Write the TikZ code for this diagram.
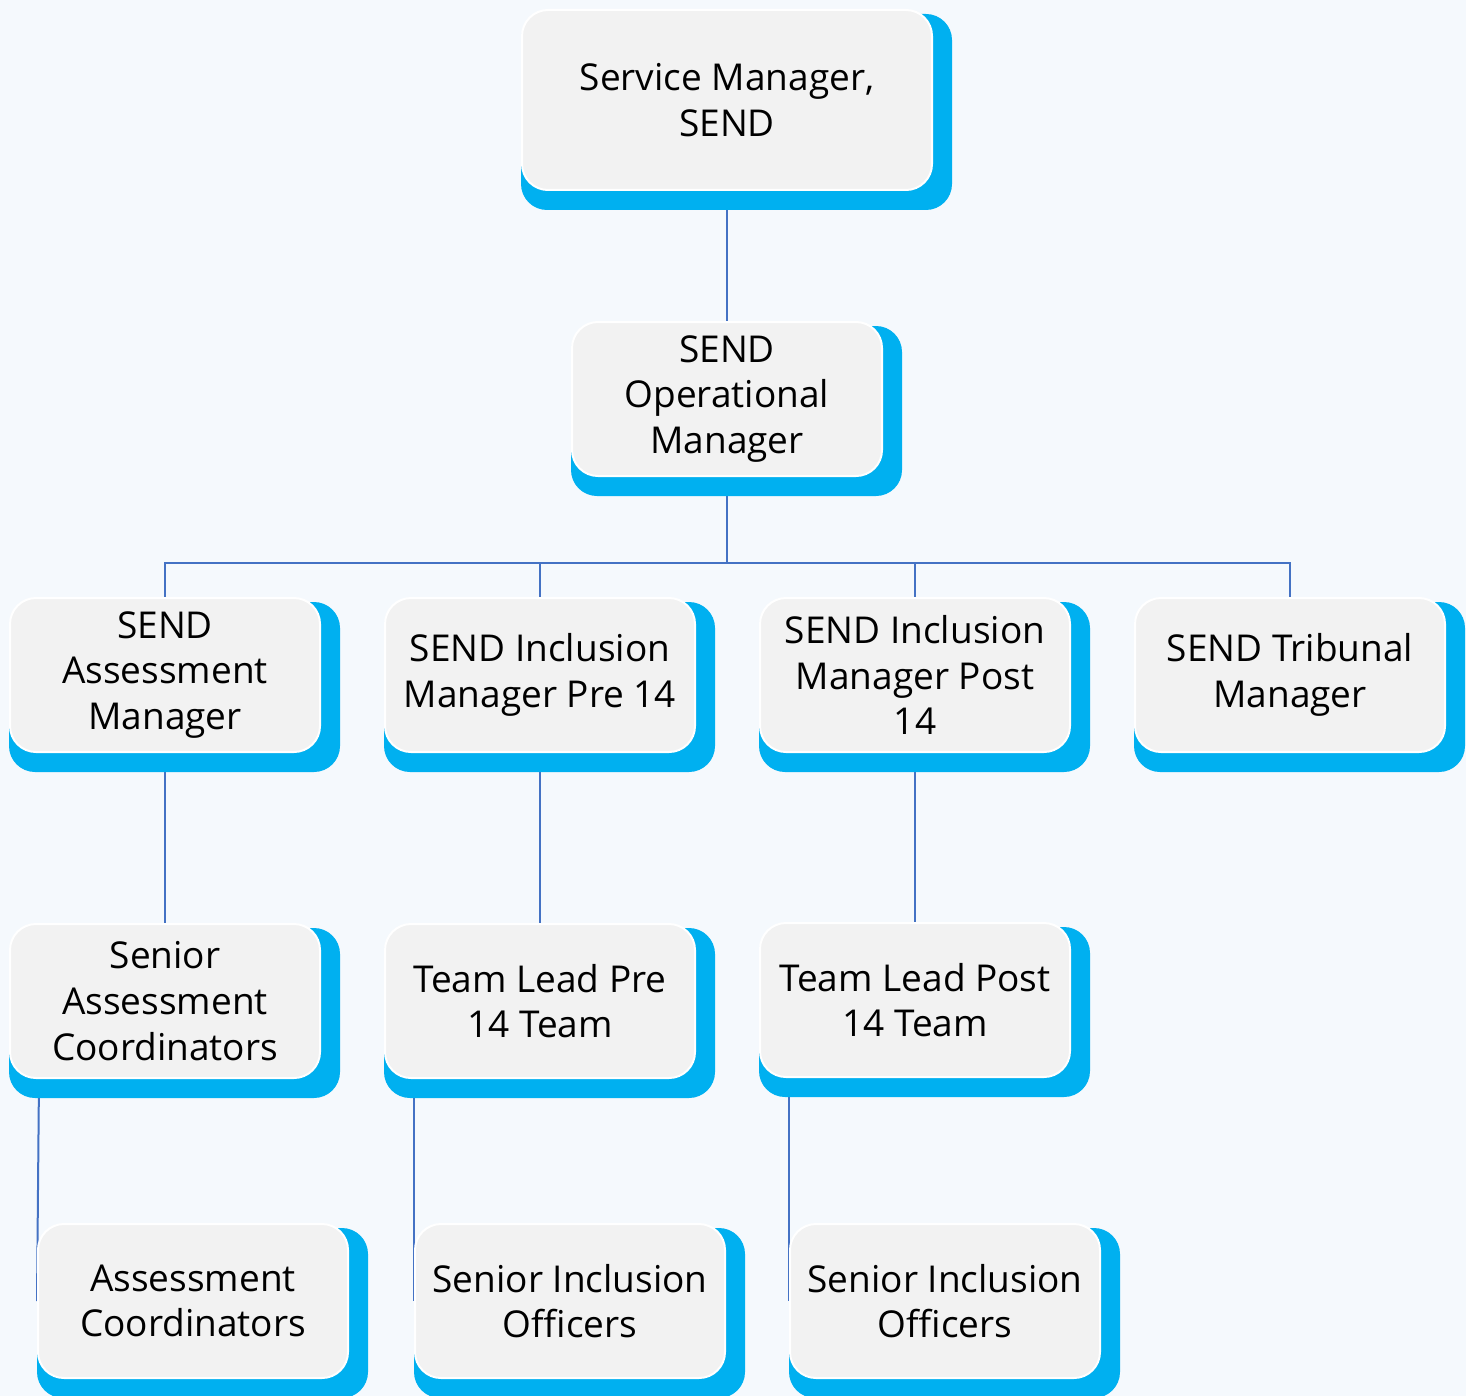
\documentclass[tikz,border=0pt]{standalone}
\usepackage{fontspec}
\setmainfont{Open Sans}
\usetikzlibrary{calc,backgrounds}

\definecolor{pagebg}{HTML}{F5F9FD}
\definecolor{boxfill}{HTML}{F2F2F2}
\definecolor{shadowblue}{HTML}{00B0F0}
\definecolor{linkblue}{HTML}{4472C4}

\begin{document}
\begin{tikzpicture}[x=0.5pt,y=-0.5pt,
    role/.style={rectangle,rounded corners=13pt,fill=boxfill,draw=white,
        line width=1pt,minimum width=155pt,minimum height=77pt,
        align=center,inner sep=2pt,font=\fontsize{18.5}{22.8}\selectfont},
    link/.style={draw=linkblue,line width=1pt}]

    \useasboundingbox (0,0) rectangle (1466,1396);

    % top levels
    \node[role,minimum width=205pt,minimum height=90pt] (svc) at (727,100)
        {Service Manager,\\SEND};
    \node[role] (opmgr) at (727,399) {SEND\\Operational\\Manager};

    % managers
    \node[role] (assess) at (165,675) {SEND\\Assessment\\Manager};
    \node[role] (incpre) at (540,675) {SEND Inclusion\\Manager Pre 14};
    \node[role] (incpost) at (915,675) {SEND Inclusion\\Manager Post\\14};
    \node[role] (trib) at (1290,675) {SEND Tribunal\\Manager};

    % team leads
    \node[role] (senassess) at (165,1001) {Senior\\Assessment\\Coordinators};
    \node[role] (leadpre) at (540,1001) {Team Lead Pre\\14 Team};
    \node[role] (leadpost) at (915,1000) {Team Lead Post\\14 Team};

    % officers
    \node[role] (assesco) at (193,1301) {Assessment\\Coordinators};
    \node[role] (sioa) at (570,1301) {Senior Inclusion\\Officers};
    \node[role] (siob) at (945,1301) {Senior Inclusion\\Officers};

    \coordinate (bus) at (727,563);

    \begin{scope}[on background layer]
        \fill[pagebg] (0,0) rectangle (1466,1396);

        \draw[link] (svc.south) -- (opmgr.north);
        \draw[link] (opmgr.south) -- (bus);
        \foreach \c in {assess,incpre,incpost,trib} {
            \draw[link] (bus) -| (\c.north);}

        \draw[link] (assess.south) -- (senassess.north);
        \draw[link] (incpre.south) -- (leadpre.north);
        \draw[link] (incpost.south) -- (leadpost.north);

        \draw[link] ($(senassess.south west)+(15pt,0)$) -- (assesco.west);
        \draw[link] ($(leadpre.south west)+(15pt,0)$) -- (sioa.west);
        \draw[link] ($(leadpost.south west)+(15pt,0)$) -- (siob.west);

        \foreach \n in {svc,opmgr,assess,incpre,incpost,trib,
                        senassess,leadpre,leadpost,assesco,sioa,siob} {
            \fill[shadowblue,rounded corners=13pt]
                ($(\n.north west)+(0,-2.5pt)$) rectangle ($(\n.south east)+(9.5pt,-9.5pt)$);}
    \end{scope}

\end{tikzpicture}
\end{document}
